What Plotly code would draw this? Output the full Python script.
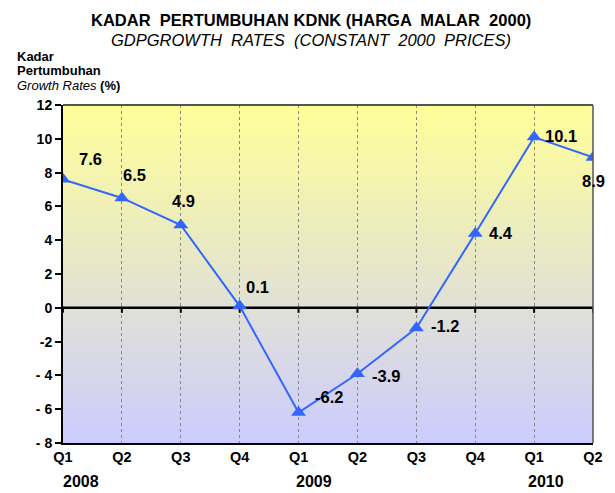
import plotly.graph_objects as go

quarters = ["Q1", "Q2", "Q3", "Q4", "Q1", "Q2", "Q3", "Q4", "Q1", "Q2"]
years = ["2008", "2009", "2010"]
growth = [7.6, 6.5, 4.9, 0.1, -6.2, -3.9, -1.2, 4.4, 10.1, 8.9]
ytick_vals = [12, 10, 8, 6, 4, 2, 0, -2, -4, -6, -8]
ytick_text = ["12", "10", "8", "6", "4", "2", "0", "-2", "- 4", "- 6", "- 8"]
ytitle_lines = ["<b>Kadar</b>", "<b>Pertumbuhan</b>", "<i>Growth Rates</i> <b>(%)</b>"]

# label offsets in pixels (xshift, yshift)
label_offsets = [(27, 20), (13, 23), (3, 24), (18, 19), (30, 16),
                 (29, -2), (29, 2), (26, 0), (27, 1), (0, -24)]
year_pos = [0.3, 4.27, 8.2]

x = list(range(len(growth)))
ymin, ymax = -8, 12
FONT = "Liberation Sans, Arial"

fig = go.Figure()
fig.add_trace(go.Scatter(
    x=x, y=growth, mode="lines+markers",
    line=dict(color="#3366FF", width=2),
    marker=dict(symbol="triangle-up", size=13, color="#3366FF"),
    hoverinfo="skip", showlegend=False,
))

shapes = []
# gradient background
top = (255, 255, 153)
bot = (204, 204, 255)
n = 100
for i in range(n):
    t0 = i / n
    t1 = (i + 1) / n
    tm = (t0 + t1) / 2
    c = tuple(round(top[k] + (bot[k] - top[k]) * tm) for k in range(3))
    shapes.append(dict(type="rect", xref="paper", yref="paper",
                       x0=0, x1=1, y0=1 - t1, y1=1 - t0 + 0.002,
                       fillcolor="rgb(%d,%d,%d)" % c, line=dict(width=0),
                       layer="below"))
# zero line
shapes.append(dict(type="line", xref="paper", yref="y", x0=0, x1=1, y0=0, y1=0,
                   line=dict(color="black", width=2.5), layer="between"))
# tick marks under the zero line
for xi in x:
    shapes.append(dict(type="line", xref="x", yref="y", x0=xi, x1=xi,
                       ysizemode="pixel", yanchor=0, y0=1, y1=-5,
                       line=dict(color="black", width=2), layer="between"))
# top and right border
shapes.append(dict(type="line", xref="paper", yref="paper", x0=0, x1=1, y0=1, y1=1,
                   line=dict(color="#555555", width=2)))
shapes.append(dict(type="line", xref="paper", yref="paper", x0=1, x1=1, y0=0, y1=1,
                   line=dict(color="#555555", width=1.5)))

annotations = []
for xi, v, (dx, dy) in zip(x, growth, label_offsets):
    annotations.append(dict(x=xi, y=v, xref="x", yref="y", text="<b>%s</b>" % v,
                            showarrow=False, xshift=dx, yshift=dy,
                            font=dict(family=FONT, size=16.5, color="black")))
for yp, yr in zip(year_pos, years):
    annotations.append(dict(x=yp, y=-0.115, xref="x", yref="paper", yanchor="middle",
                            text="<b>%s</b>" % yr, showarrow=False,
                            font=dict(family=FONT, size=16, color="black")))
# titles
annotations.append(dict(x=0.468, y=1.0, xref="paper", yref="paper", yanchor="middle",
                        text="<b>KADAR  PERTUMBUHAN KDNK (HARGA  MALAR  2000)</b>",
                        showarrow=False, yshift=85,
                        font=dict(family=FONT, size=16.5, color="black")))
annotations.append(dict(x=0.468, y=1.0, xref="paper", yref="paper", yanchor="middle",
                        text="<i>GDPGROWTH  RATES  (CONSTANT  2000  PRICES)</i>",
                        showarrow=False, yshift=65,
                        font=dict(family=FONT, size=16.5, color="black")))
for k, line in enumerate(ytitle_lines):
    annotations.append(dict(x=0, y=1.0, xref="paper", yref="paper", xanchor="left", yanchor="middle",
                            text=line, showarrow=False, xshift=-48, yshift=49 - 14.5 * k,
                            align="left", font=dict(family=FONT, size=13, color="black")))

fig.update_layout(
    width=615, height=493,
    margin=dict(l=63, r=18, t=105, b=50),
    paper_bgcolor="white", plot_bgcolor="rgba(0,0,0,0)",
    shapes=shapes, annotations=annotations,
    xaxis=dict(range=[0, 9], tickvals=x, ticktext=["<b>%s</b>" % q for q in quarters],
               showgrid=True, gridcolor="#888888", griddash="dot", gridwidth=1,
               showline=True, linecolor="black", linewidth=2, ticks="",
               zeroline=False, fixedrange=True,
               tickfont=dict(family=FONT, size=14.5, color="black")),
    yaxis=dict(range=[ymin, ymax], tickvals=ytick_vals, ticktext=["<b>%s</b>" % t for t in ytick_text],
               showgrid=False, showline=True, linecolor="black", linewidth=2,
               ticks="outside", ticklen=6, tickcolor="black", tickwidth=1.5,
               zeroline=False, fixedrange=True,
               tickfont=dict(family=FONT, size=14, color="black")),
    font=dict(family=FONT),
)

fig.write_html("out.html", config={"displayModeBar": False},
               post_script="document.body.style.margin='0';document.body.style.overflow='hidden';")
